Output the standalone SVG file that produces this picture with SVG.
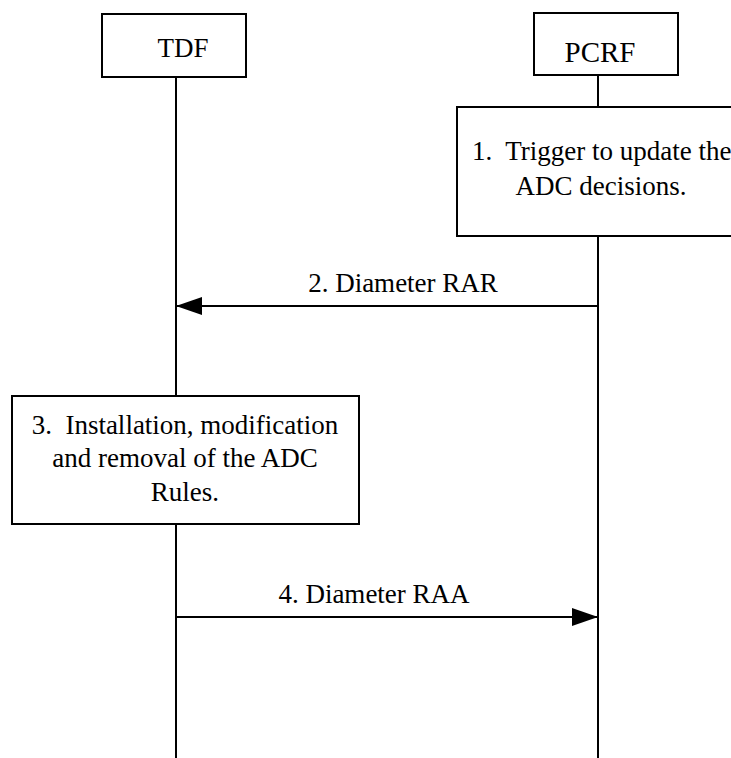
<svg xmlns="http://www.w3.org/2000/svg" width="731" height="758" viewBox="0 0 731 758">
<style>
.box{fill:#fff;stroke:#000;stroke-width:2}
.ln{stroke:#000;stroke-width:2;fill:none}
text{font-family:"Liberation Serif","Times New Roman",serif;font-size:27px;fill:#000;white-space:pre}
</style>
<defs>
<marker id="ah" markerWidth="26" markerHeight="18" refX="26" refY="9" orient="auto" markerUnits="userSpaceOnUse">
<path d="M0,0 L26,9 L0,18 Z" fill="#000"/>
</marker>
</defs>
<rect width="731" height="758" fill="#fff"/>
<g id="lifelines">
<line class="ln" x1="176" y1="77" x2="176" y2="396"/>
<line class="ln" x1="176" y1="524" x2="176" y2="758"/>
<line class="ln" x1="598" y1="75" x2="598" y2="107"/>
<line class="ln" x1="598" y1="236" x2="598" y2="758"/>
</g>
<g id="tdf">
<rect class="box" x="102" y="14" width="144" height="63"/>
<text x="183" y="57" text-anchor="middle">TDF</text>
</g>
<g id="pcrf">
<rect class="box" x="534" y="13" width="144" height="62"/>
<text x="600" y="62" text-anchor="middle" style="font-size:29px">PCRF</text>
</g>
<g id="step1">
<rect class="box" x="457" y="107" width="290" height="129"/>
<text x="472" y="160">1.  Trigger to update the</text>
<text x="601" y="195" text-anchor="middle">ADC decisions.</text>
</g>
<g id="step3">
<rect class="box" x="12" y="396" width="347" height="128"/>
<text x="185" y="434" text-anchor="middle">3.  Installation, modification</text>
<text x="185" y="467" text-anchor="middle">and removal of the ADC</text>
<text x="185" y="501" text-anchor="middle">Rules.</text>
</g>
<g id="connectors">
<line class="ln" x1="598" y1="306" x2="176" y2="306" marker-end="url(#ah)"/>
<text x="403" y="292" text-anchor="middle">2. Diameter RAR</text>
<line class="ln" x1="176" y1="617" x2="598" y2="617" marker-end="url(#ah)"/>
<text x="374" y="603" text-anchor="middle">4. Diameter RAA</text>
</g>
</svg>
